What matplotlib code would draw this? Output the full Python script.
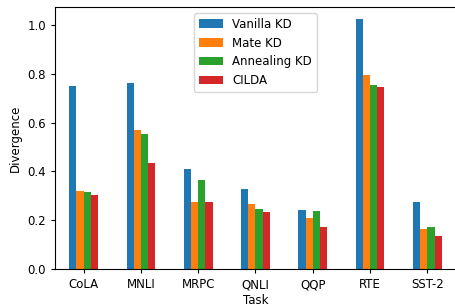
import matplotlib
matplotlib.use("Agg")
import matplotlib.pyplot as plt
import numpy as np

tasks = ["CoLA", "MNLI", "MRPC", "QNLI", "QQP", "RTE", "SST-2"]
vanilla = [0.751, 0.761, 0.410, 0.327, 0.242, 1.023, 0.273]
mate = [0.321, 0.568, 0.273, 0.266, 0.208, 0.795, 0.164]
annealing = [0.316, 0.553, 0.366, 0.247, 0.238, 0.753, 0.172]
cilda = [0.302, 0.434, 0.273, 0.234, 0.172, 0.746, 0.134]

series = [("Vanilla KD", vanilla), ("Mate KD", mate),
          ("Annealing KD", annealing), ("CILDA", cilda)]
colors = ["#1f77b4", "#ff7f0e", "#2ca02c", "#d62728"]

plt.rcParams["font.size"] = 8.5
plt.rcParams["xtick.major.size"] = 3
plt.rcParams["ytick.major.size"] = 3

fig = plt.figure(figsize=(4.56, 3.04), dpi=100)
ax = fig.add_axes([0.1206, 0.115, 0.8794, 0.862])

x = np.arange(len(tasks))
w = 0.125
for i, (name, vals) in enumerate(series):
    ax.bar(x + (i - 1.5) * w, vals, w, label=name, color=colors[i])

ax.set_xticks(x)
ax.set_xticklabels(tasks)
ax.set_xlim(-0.5, len(tasks) - 0.5)
ax.set_xlabel("Task", labelpad=2)
ax.set_ylabel("Divergence")
ax.legend(loc="upper center")

fig.savefig("out.png", dpi=100)
